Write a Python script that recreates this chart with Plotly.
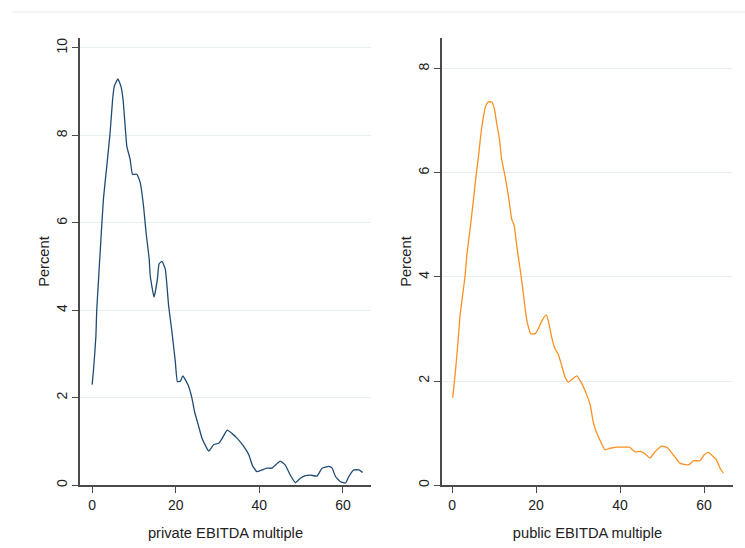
import plotly.graph_objects as go

# Density of private-deal EBITDA multiples (percent)
private_x = [0.0, 0.3, 0.9, 1.1, 1.5, 1.9, 2.7, 3.5, 4.3, 4.9, 5.3, 6.15, 6.9, 7.4, 7.9, 8.3,
             9.1, 9.65, 10.7, 11.5, 12.3, 12.9, 13.65, 13.9, 14.8, 15.6, 16.0, 16.7, 17.5,
             18.3, 19.1, 19.9, 20.4, 21.1, 21.7, 23.0, 23.9, 24.5, 25.5, 26.3, 27.9, 29.1,
             30.3, 31.1, 32.3, 33.5, 34.7, 36.3, 37.5, 38.3, 39.4, 40.6, 41.8, 43.0, 45.0,
             46.2, 47.4, 48.6, 49.8, 51.0, 52.2, 53.8, 55.0, 56.6, 57.4, 58.2, 59.4, 60.6,
             61.4, 62.6, 63.8, 64.7]
private_pct = [2.30, 2.6, 3.4, 4.0, 4.65, 5.3, 6.54, 7.29, 8.06, 8.82, 9.12, 9.29, 9.12, 8.82,
               8.21, 7.75, 7.45, 7.11, 7.11, 6.92, 6.38, 5.78, 5.17, 4.79, 4.3, 4.7, 5.06, 5.12,
               4.94, 4.1, 3.5, 2.82, 2.37, 2.38, 2.5, 2.28, 1.98, 1.68, 1.34, 1.07, 0.78, 0.93,
               0.96, 1.07, 1.26, 1.18, 1.07, 0.88, 0.69, 0.46, 0.31, 0.35, 0.39, 0.39, 0.55,
               0.46, 0.23, 0.06, 0.16, 0.22, 0.23, 0.21, 0.39, 0.43, 0.39, 0.20, 0.08, 0.05,
               0.20, 0.35, 0.35, 0.29]

# Density of public-company EBITDA multiples (percent)
public_x = [0.15, 0.7, 1.35, 1.9, 2.5, 3.1, 3.5, 4.3, 5.1, 5.7, 6.3, 6.8, 7.5, 8.0, 8.65, 9.45,
            10.1, 10.6, 11.3, 11.8, 12.6, 13.4, 14.2, 14.8, 15.4, 16.2, 16.8, 17.4, 17.9, 18.7,
            19.8, 20.5, 21.4, 22.4, 22.9, 23.7, 24.5, 25.3, 26.1, 26.9, 27.7, 29.7, 30.9, 32.1,
            32.9, 33.6, 34.3, 35.2, 36.4, 37.6, 39.2, 40.8, 42.2, 43.6, 44.8, 46.0, 47.1, 48.3,
            49.9, 51.3, 52.7, 54.3, 56.3, 57.5, 59.0, 60.0, 61.0, 62.2, 63.0, 63.8, 64.6]
public_pct = [1.68, 2.11, 2.69, 3.26, 3.64, 4.02, 4.41, 4.92, 5.49, 5.94, 6.32, 6.70, 7.09, 7.28,
              7.36, 7.36, 7.22, 6.96, 6.64, 6.26, 5.94, 5.56, 5.11, 4.98, 4.60, 4.15, 3.80, 3.39,
              3.13, 2.91, 2.91, 3.00, 3.16, 3.27, 3.16, 2.85, 2.62, 2.51, 2.30, 2.08, 1.98, 2.10,
              1.95, 1.73, 1.54, 1.22, 1.03, 0.87, 0.68, 0.71, 0.73, 0.73, 0.73, 0.64, 0.65, 0.60,
              0.52, 0.64, 0.75, 0.72, 0.58, 0.42, 0.39, 0.47, 0.47, 0.58, 0.63, 0.55, 0.48, 0.33,
              0.23]

x_ticks = [0, 20, 40, 60]
private_y_ticks = [0, 2, 4, 6, 8, 10]
public_y_ticks = [0, 2, 4, 6, 8]

NAVY = "#1f4b73"
ORANGE = "#ff8f1f"
GRID = "#e8eff1"
AXIS = "#4a4a4a"
TICK_FONT = dict(family="Liberation Sans, Arial, sans-serif", size=14, color="#222222")
TITLE_FONT = dict(family="Liberation Sans, Arial, sans-serif", size=14.7, color="#222222")

fig = go.Figure()
fig.add_trace(go.Scatter(x=private_x, y=private_pct, mode="lines",
                         line=dict(color=NAVY, width=1.3, shape="spline", smoothing=0.4),
                         xaxis="x", yaxis="y", showlegend=False, hoverinfo="skip"))
fig.add_trace(go.Scatter(x=public_x, y=public_pct, mode="lines",
                         line=dict(color=ORANGE, width=1.3, shape="spline", smoothing=0.4),
                         xaxis="x2", yaxis="y2", showlegend=False, hoverinfo="skip"))

H = 548.0
W = 745.0
y_dom = [1 - 487 / H, 1 - 38 / H]

common_x = dict(showline=True, linecolor=AXIS, linewidth=1.5, ticks="outside", ticklen=6,
                tickcolor=AXIS, tickwidth=1, showgrid=False, zeroline=False,
                tickvals=x_ticks, tickfont=TICK_FONT, title_font=TITLE_FONT,
                title_standoff=16)
common_y = dict(showline=True, linecolor=AXIS, linewidth=1.5, ticks="outside", ticklen=6,
                tickcolor=AXIS, tickwidth=1, showgrid=True, gridcolor=GRID, gridwidth=1,
                zeroline=False, tickangle=-90, tickfont=TICK_FONT, title_font=TITLE_FONT,
                title_standoff=0)

fig.update_layout(
    width=745, height=548,
    margin=dict(l=0, r=0, t=0, b=0),
    paper_bgcolor="white", plot_bgcolor="white",
    font=TICK_FONT,
    xaxis=dict(common_x, domain=[80 / W, 371 / W], range=[-2.9, 66.7],
               title_text="private EBITDA multiple", anchor="y"),
    yaxis=dict(common_y, domain=y_dom, range=[0, 10.23], tickvals=private_y_ticks,
               title_text="Percent", anchor="x"),
    xaxis2=dict(common_x, domain=[442 / W, 733 / W], range=[-2.4, 66.9],
                title_text="public EBITDA multiple", anchor="y2"),
    yaxis2=dict(common_y, domain=y_dom, range=[0, 8.59], tickvals=public_y_ticks,
                title_text="Percent", anchor="x2"),
    shapes=[dict(type="line", xref="paper", yref="paper", x0=12 / W, x1=1,
                 y0=1 - 12 / H, y1=1 - 12 / H, line=dict(color="#e6ecef", width=1))],
)

fig.write_html("out.html")
